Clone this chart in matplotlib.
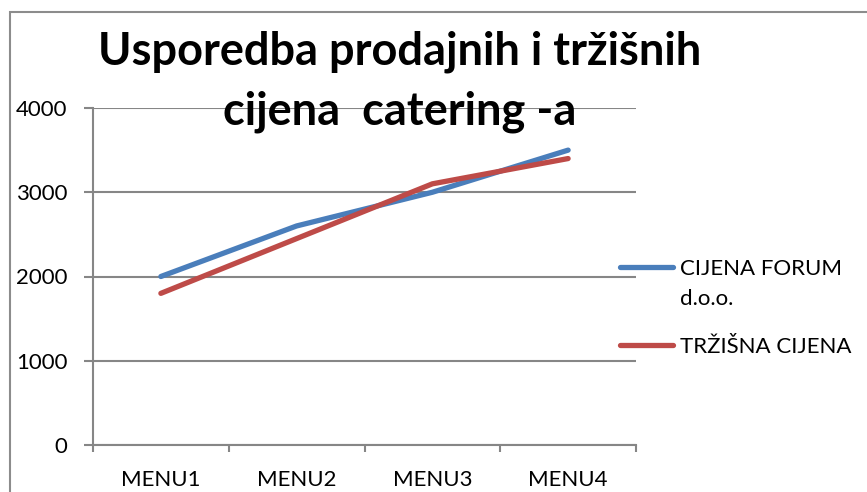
import numpy as np
import matplotlib.pyplot as plt
from matplotlib.patches import Rectangle

# data
categories = ['MENU1', 'MENU2', 'MENU3', 'MENU4']
forum_price = [2000, 2600, 3000, 3500]
market_price = [1800, 2450, 3100, 3400]
series_names = ['CIJENA FORUM\nd.o.o.', 'TRŽIŠNA CIJENA']
y_ticks = [0, 1000, 2000, 3000, 4000]

plt.rcParams['font.family'] = ['Lato', 'DejaVu Sans']

fig = plt.figure(figsize=(8.67, 4.92), dpi=100)
ax = fig.add_axes([93/867, 1-445/492, (636-93)/867, (445-108)/492])

grey = '#868686'
x = np.arange(len(categories))
ax.plot(x, forum_price, color='#4a7ebb', lw=3.8, solid_capstyle='round', label=series_names[0], zorder=3)
ax.plot(x, market_price, color='#be4b48', lw=3.8, solid_capstyle='round', label=series_names[1], zorder=3)

ax.set_xlim(-0.5, len(categories) - 0.5)
ax.set_ylim(0, 4000)
ax.set_yticks(y_ticks)
ax.set_yticklabels([str(v) for v in y_ticks], fontsize=16)
ax.set_xticks(x)
ax.set_xticklabels(categories, fontsize=16)
ax.tick_params(axis='x', length=0, pad=18)
ax.set_xticks(np.arange(len(categories) + 1) - 0.5, minor=True)
ax.tick_params(axis='x', which='minor', length=5, width=1.5, color=grey, direction='out')
ax.tick_params(axis='y', length=6.5, width=1.5, color=grey, pad=12)

ax.grid(axis='y', color=grey, lw=1.5)
ax.set_axisbelow(True)
for s in ['top', 'right']:
    ax.spines[s].set_visible(False)
for s in ['left', 'bottom']:
    ax.spines[s].set_color(grey)
    ax.spines[s].set_linewidth(1.5)

fig.text(400/867, 1-52/492, 'Usporedba prodajnih i tržišnih', fontsize=32.5, fontweight='bold',
         ha='center', va='center')
fig.text(400/867, 1-112/492, 'cijena  catering -a', fontsize=32.5, fontweight='bold',
         ha='center', va='center')

leg = ax.legend(loc='upper left', bbox_to_anchor=((620-93)/543, (445-259)/337), frameon=False,
                fontsize=16, borderpad=0, borderaxespad=0,
                handlelength=2.4, handletextpad=0.3, labelspacing=1.3)
for t in leg.get_texts():
    t.set_linespacing(1.6)
# keep the handle next to the first line of a two-line label
for col in leg._legend_handle_box.get_children():
    for row in col.get_children():
        row.align = 'top'

# outer chart frame (cut off at right and bottom)
fig.add_artist(Rectangle((10/867, -0.1), 1.2, 1.1 - 12/492, transform=fig.transFigure,
                         fill=False, edgecolor='#8c8c8c', lw=1.5))

fig.savefig('out.png', dpi=100)
